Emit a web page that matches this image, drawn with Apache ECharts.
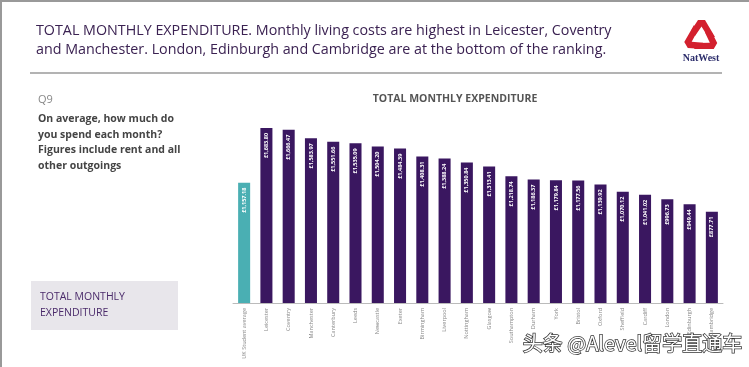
<!DOCTYPE html>
<html><head><meta charset="utf-8">
<script src="https://cdn.jsdelivr.net/npm/echarts@6/dist/echarts.min.js"></script>
<style>html,body{margin:0;padding:0;background:#fff}#c{width:749px;height:367px}</style>
</head><body><div id="c"></div>
<script>
const categories = ['UK Student average','Leicester','Coventry','Manchester','Canterbury','Leeds','Newcastle','Exeter','Birmingham','Liverpool','Nottingham','Glasgow','Southampton','Durham','York','Bristol','Oxford','Sheffield','Cardiff','London','Edinburgh','Cambridge'];
const values = [1157.18,1683.80,1666.47,1583.97,1551.66,1535.09,1504.20,1484.39,1408.31,1388.24,1350.84,1313.41,1218.74,1186.37,1179.84,1177.56,1139.92,1070.12,1041.02,996.73,949.44,877.71];
const headline = ['TOTAL MONTHLY EXPENDITURE. Monthly living costs are highest in Leicester, Coventry','and Manchester. London, Edinburgh and Cambridge are at the bottom of the ranking.'];
const question = ['On average, how much do','you spend each month?','Figures include rent and all','other outgoings'];
const chartTitle = 'TOTAL MONTHLY EXPENDITURE';
const boxText = ['TOTAL MONTHLY','EXPENDITURE'];
const watermark = '头条 @Alevel留学直通车';

const fmt = v => '£' + v.toLocaleString('en-GB',{minimumFractionDigits:2,maximumFractionDigits:2});
const chart = echarts.init(document.getElementById('c'));
const piece = [[-3,-17],[4,-17],[14,0],[7,0],[0.5,-10.5],[-6,-1],[-9.5,-7]];
function rot(pts,a){const c=Math.cos(a),s=Math.sin(a);return pts.map(([x,y])=>[701+x*c-y*s,37+x*s+y*c]);}
chart.setOption({
  animation:false,
  grid:{left:233,right:26,top:95,bottom:64},
  xAxis:{type:'category',data:categories,
    axisLine:{lineStyle:{color:'#bbbbbb',width:1}},axisTick:{show:false},
    axisLabel:{rotate:90,fontSize:5.5,color:'#888',margin:5,fontFamily:'Open Sans',interval:0}},
  yAxis:{type:'value',min:0,max:2000,show:false,splitLine:{show:false}},
  series:[{type:'bar',barWidth:'54%',
    data:values.map((v,i)=>({value:v,itemStyle:{color:i===0?'#4aafb3':'#3a1760'}})),
    label:{show:true,position:'insideTop',rotate:90,align:'right',verticalAlign:'middle',distance:5,
      formatter:p=>fmt(p.value),fontSize:5.5,fontWeight:'bold',color:'#fff',fontFamily:'Open Sans'}}],
  graphic:[
    {type:'line',shape:{x1:1,y1:0,x2:1,y2:367},style:{stroke:'#999',lineWidth:2}},
    {type:'line',shape:{x1:0,y1:1,x2:749,y2:1},style:{stroke:'#999',lineWidth:2}},
    {type:'text',left:36,top:21,style:{text:headline.join('\n'),fontSize:14.3,lineHeight:19,fill:'#3b2252',fontFamily:'Open Sans'}},
    {type:'line',shape:{x1:30,y1:73,x2:722,y2:73},style:{stroke:'#9a9a9a',lineWidth:1.5}},
    {type:'polygon',shape:{points:rot(piece,0)},style:{fill:'#d3202e'}},
    {type:'polygon',shape:{points:rot(piece,2*Math.PI/3)},style:{fill:'#d3202e'}},
    {type:'polygon',shape:{points:rot(piece,4*Math.PI/3)},style:{fill:'#d3202e'}},
    {type:'text',x:701,y:58,style:{text:'NatWest',fontSize:10,fontWeight:'bold',fill:'#2c2d6b',align:'center',verticalAlign:'middle',fontFamily:'Liberation Sans Narrow'}},
    {type:'text',x:38,y:100,style:{text:'Q9',fontSize:11,fill:'#888',verticalAlign:'middle',fontFamily:'Open Sans'}},
    {type:'text',left:38,top:111,style:{text:question.join('\n'),fontSize:10.5,lineHeight:15.7,fontWeight:'bold',fill:'#444',fontFamily:'Open Sans'}},
    {type:'text',x:455,y:99,style:{text:chartTitle,fontSize:10.5,fontWeight:'bold',fill:'#555',align:'center',verticalAlign:'middle',fontFamily:'Open Sans'}},
    {type:'rect',shape:{x:31,y:281,width:147,height:49},style:{fill:'#e8e6eb'}},
    {type:'text',left:40,top:289,style:{text:boxText.join('\n'),fontSize:10.5,lineHeight:16,fill:'#4a2a6a',fontFamily:'Open Sans'}},
    {type:'text',left:522,top:333,style:{text:watermark,fontSize:20,fill:'#fff',stroke:'#333',lineWidth:1.5,fontFamily:'Noto Sans CJK SC'}}
  ]
});
</script></body></html>
